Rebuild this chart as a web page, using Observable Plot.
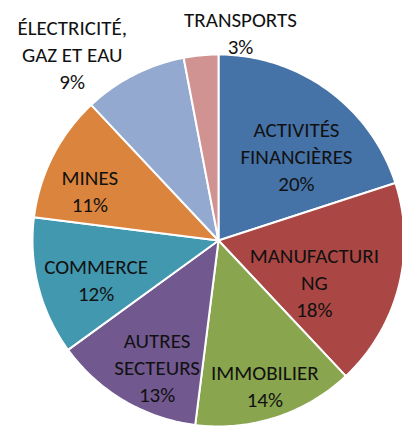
<!DOCTYPE html>
<html>
<head>
<meta charset="utf-8">
<script src="https://cdn.jsdelivr.net/npm/d3@7"></script>
<script src="https://cdn.jsdelivr.net/npm/@observablehq/plot@0.6"></script>
<style>
  html, body { margin: 0; padding: 0; background: #fff; }
  #chart svg { display: block; }
</style>
</head>
<body>
<div id="chart"></div>
<script>
// Data (clockwise from 12 o'clock)
const categories = ["ACTIVITÉS\nFINANCIÈRES", "MANUFACTURI\nNG", "IMMOBILIER", "AUTRES\nSECTEURS", "COMMERCE", "MINES", "ÉLECTRICITÉ,\nGAZ ET EAU", "TRANSPORTS"];
const values = [20, 18, 14, 13, 12, 11, 9, 3];
const colors = ["#4572a7", "#aa4643", "#89a54e", "#71588f", "#4198af", "#db843d", "#93a9cf", "#d19392"];

// Label layout: radius (fraction of pie radius) and angle shift (degrees) from slice middle
const labelRadius = [0.62, 0.56, 0.815, 0.753, 0.69, 0.743, 1.278, 1.13];
const labelShift = [6.5, 8.6, 0.2, -4.6, -3.0, -5.6, -11, 11.4];

const total = d3.sum(values);
const rad = (deg) => deg * Math.PI / 180;

// Slice outlines built from the values
const slices = [];
const labels = [];
let acc = 0;
values.forEach((v, i) => {
  const a0 = acc / total * 360;
  const a1 = (acc + v) / total * 360;
  acc += v;
  slices.push({cat: categories[i], x: 0, y: 0});
  const steps = Math.max(2, Math.ceil(a1 - a0));
  for (let k = 0; k <= steps; k++) {
    const a = a0 + (a1 - a0) * k / steps;
    slices.push({cat: categories[i], x: Math.sin(rad(a)), y: Math.cos(rad(a))});
  }
  slices.push({cat: categories[i], x: 0, y: 0});
  const mid = (a0 + a1) / 2 + labelShift[i];
  const r = labelRadius[i];
  labels.push({text: `${categories[i]}\n${v}%`, x: r * Math.sin(rad(mid)), y: r * Math.cos(rad(mid))});
});

const cx = 218, cy = 240, R = 186;

const chart = Plot.plot({
  width: 402,
  height: 434,
  margin: 0,
  style: {background: "#fff"},
  x: {domain: [-1, 1], range: [cx - R, cx + R], axis: null},
  y: {domain: [-1, 1], range: [cy + R, cy - R], axis: null},
  color: {domain: categories, range: colors, legend: false},
  marks: [
    Plot.line(slices, {x: "x", y: "y", z: "cat", fill: "cat", stroke: "#ffffff", strokeWidth: 2, curve: "linear", strokeLinejoin: "round"}),
    Plot.text(labels, {
      x: "x", y: "y", text: "text",
      fontSize: 21, lineHeight: 1.29,
      fontFamily: "Carlito, Lato, sans-serif",
      fill: "#111111", textAnchor: "middle", lineAnchor: "middle"
    })
  ]
});
document.getElementById("chart").appendChild(chart);
</script>
</body>
</html>
